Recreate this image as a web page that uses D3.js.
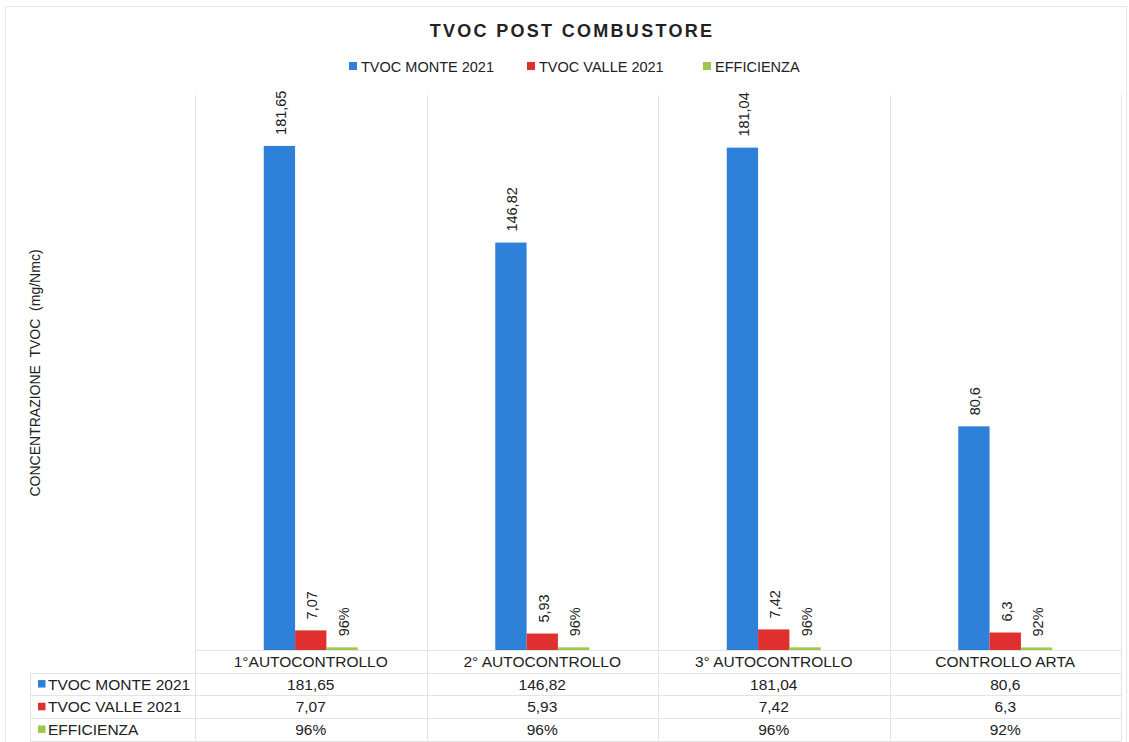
<!DOCTYPE html>
<html>
<head>
<meta charset="utf-8">
<script src="https://cdn.jsdelivr.net/npm/d3@7"></script>
<style>
body { margin: 0; background: #fff; }
svg { font-family: "Liberation Sans", Arial, sans-serif; }
</style>
</head>
<body>
<script>
// TVOC post combustore - grouped bars with data table below

var categories = ['1°AUTOCONTROLLO', '2° AUTOCONTROLLO', '3° AUTOCONTROLLO', 'CONTROLLO ARTA'];
var seriesNames = ['TVOC MONTE 2021', 'TVOC VALLE 2021', 'EFFICIENZA'];
var monte = [181.65, 146.82, 181.04, 80.6];
var valle = [7.07, 5.93, 7.42, 6.3];
var efficienza = [0.96, 0.96, 0.96, 0.92];
var monteLabels = ['181,65', '146,82', '181,04', '80,6'];
var valleLabels = ['7,07', '5,93', '7,42', '6,3'];
var efficienzaLabels = ['96%', '96%', '96%', '92%'];
var colors = ['#2f80d8', '#e02f2f', '#9cc94a'];

var width = 1129;
var height = 742;

var svg = d3.select('body').append('svg')
    .attr('width', width)
    .attr('height', height);

// outer frame
svg.append('rect')
    .attr('x', 5.5).attr('y', 6.5)
    .attr('width', 1121).attr('height', 740)
    .attr('fill', 'none')
    .attr('stroke', '#e6e6e6');

var plotLeft = 195, plotRight = 1121, plotTop = 95, baseline = 650;
var rowH = 22.7;
var tableLeft = 30, tableBottom = baseline + 4 * rowH;

var x0 = d3.scaleBand().domain(categories).range([plotLeft, plotRight]);
var groupW = x0.bandwidth() * 0.406;
var x1 = d3.scaleBand().domain(seriesNames).range([0, groupW]);
var y = d3.scaleLinear().domain([0, 200]).range([baseline, plotTop]);

var series = [
    { name: seriesNames[0], values: monte, labels: monteLabels, color: colors[0] },
    { name: seriesNames[1], values: valle, labels: valleLabels, color: colors[1] },
    { name: seriesNames[2], values: efficienza, labels: efficienzaLabels, color: colors[2] }
];

// vertical grid lines at category boundaries
var bounds = categories.map(function(c) { return x0(c); }).concat([plotRight]);
svg.selectAll('.vgrid').data(bounds).enter().append('line')
    .attr('x1', function(d) { return Math.round(d) + 0.5; })
    .attr('x2', function(d) { return Math.round(d) + 0.5; })
    .attr('y1', plotTop)
    .attr('y2', tableBottom)
    .attr('stroke', '#e3e3e3');

// table horizontal lines
var rowLines = d3.range(5).map(function(i) { return baseline + i * rowH; });
svg.selectAll('.hrow').data(rowLines).enter().append('line')
    .attr('x1', function(d, i) { return i === 0 ? plotLeft : tableLeft; })
    .attr('x2', plotRight)
    .attr('y1', function(d) { return Math.round(d) + 0.5; })
    .attr('y2', function(d) { return Math.round(d) + 0.5; })
    .attr('stroke', '#e3e3e3');
svg.append('line')
    .attr('x1', tableLeft + 0.5).attr('x2', tableLeft + 0.5)
    .attr('y1', baseline + rowH).attr('y2', tableBottom)
    .attr('stroke', '#e3e3e3');

// bars
series.forEach(function(s) {
    var g = svg.append('g');
    g.selectAll('rect').data(categories).enter().append('rect')
        .attr('x', function(c) { return x0(c) + (x0.bandwidth() - groupW) / 2 + x1(s.name); })
        .attr('width', x1.bandwidth())
        .attr('y', function(c, i) { return y(s.values[i]); })
        .attr('height', function(c, i) { return baseline - y(s.values[i]); })
        .attr('fill', s.color);
    g.selectAll('text').data(categories).enter().append('text')
        .attr('transform', function(c, i) {
            var cx = x0(c) + (x0.bandwidth() - groupW) / 2 + x1(s.name) + x1.bandwidth() / 2;
            var cy = y(s.values[i]) - 11;
            return 'translate(' + (cx + 6.5) + ',' + cy + ') rotate(-90)';
        })
        .attr('font-size', 14.5)
        .attr('fill', '#222')
        .text(function(c, i) { return s.labels[i]; });
});

// title
svg.append('text')
    .attr('x', 572).attr('y', 37)
    .attr('text-anchor', 'middle')
    .attr('font-size', 18)
    .attr('font-weight', 'bold')
    .attr('letter-spacing', 2.3)
    .attr('fill', '#222')
    .text('TVOC POST COMBUSTORE');

// legend
var legendX = [349, 527, 703];
series.forEach(function(s, i) {
    svg.append('rect')
        .attr('x', legendX[i]).attr('y', 62)
        .attr('width', 8).attr('height', 8)
        .attr('fill', s.color);
    svg.append('text')
        .attr('x', legendX[i] + 12).attr('y', 71.5)
        .attr('font-size', 14.5)
        .attr('fill', '#222')
        .text(s.name);
});

// y axis title
svg.append('text')
    .attr('transform', 'translate(40,373) rotate(-90)')
    .attr('text-anchor', 'middle')
    .attr('font-size', 14)
    .attr('fill', '#222')
    .attr('xml:space', 'preserve')
    .style('white-space', 'pre')
    .text('CONCENTRAZIONE  TVOC  (mg/Nmc)');

// table: category header
svg.selectAll('.cat').data(categories).enter().append('text')
    .attr('x', function(c) { return x0(c) + x0.bandwidth() / 2; })
    .attr('y', baseline + rowH / 2 + 5.5)
    .attr('text-anchor', 'middle')
    .attr('font-size', 15.5)
    .attr('fill', '#222')
    .text(function(c) { return c; });

// table rows
series.forEach(function(s, r) {
    var cy = baseline + (r + 1) * rowH + rowH / 2;
    svg.append('rect')
        .attr('x', 38).attr('y', cy - 4)
        .attr('width', 7.5).attr('height', 7.5)
        .attr('fill', s.color);
    svg.append('text')
        .attr('x', 48).attr('y', cy + 5.5)
        .attr('font-size', 15.5)
        .attr('fill', '#222')
        .text(s.name);
    svg.selectAll('.cell' + r).data(categories).enter().append('text')
        .attr('x', function(c) { return x0(c) + x0.bandwidth() / 2; })
        .attr('y', cy + 5.5)
        .attr('text-anchor', 'middle')
        .attr('font-size', 15.5)
        .attr('fill', '#222')
        .text(function(c, i) { return s.labels[i]; });
});
</script>
</body>
</html>
